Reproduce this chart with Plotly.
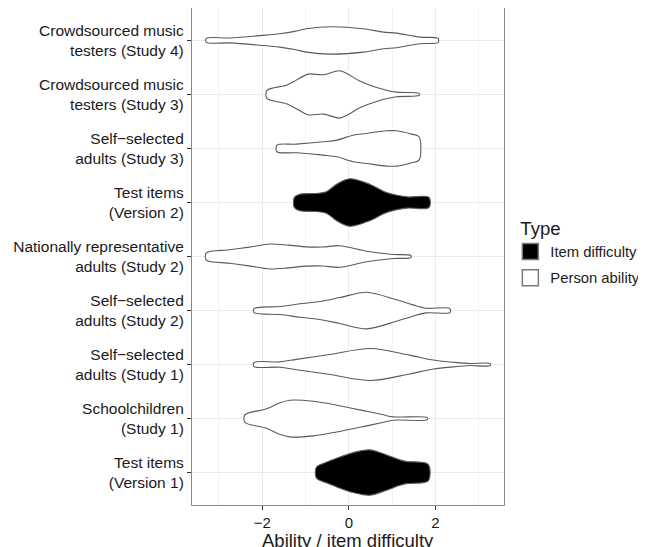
import plotly.graph_objects as go

# ---- data ----
groups = [
    "Test items<br>(Version 1)",
    "Schoolchildren<br>(Study 1)",
    "Self\u2212selected<br>adults (Study 1)",
    "Self\u2212selected<br>adults (Study 2)",
    "Nationally representative<br>adults (Study 2)",
    "Test items<br>(Version 2)",
    "Self\u2212selected<br>adults (Study 3)",
    "Crowdsourced music<br>testers (Study 3)",
    "Crowdsourced music<br>testers (Study 4)",
]
group_type = ["Item difficulty", "Person ability", "Person ability", "Person ability",
              "Person ability", "Item difficulty", "Person ability", "Person ability",
              "Person ability"]

# ability / difficulty grid and half-width of the violin (density) at each point
test_v1_x = [-0.75, -0.52, -0.28, 0.10, 0.48, 0.87, 1.18, 1.33, 1.83]
test_v1_w = [0.10, 0.19, 0.265, 0.37, 0.42, 0.327, 0.235, 0.204, 0.154]

school_s1_x = [-2.40, -1.90, -1.60, -1.36, -0.82, -0.28, 0.41, 0.77, 1.02, 1.81]
school_s1_w = [0.068, 0.18, 0.29, 0.339, 0.32, 0.248, 0.135, 0.074, 0.031, 0.019]

self_s1_x = [-2.19, -1.59, -1.21, -0.44, 0.50, 1.40, 1.95, 2.41, 2.79, 3.26]
self_s1_w = [0.037, 0.05, 0.096, 0.185, 0.296, 0.174, 0.083, 0.043, 0.019, 0.019]

self_s2_x = [-2.19, -1.59, -1.13, -0.67, -0.21, 0.41, 1.10, 1.48, 1.79, 2.33]
self_s2_w = [0.037, 0.074, 0.124, 0.167, 0.24, 0.339, 0.198, 0.105, 0.043, 0.037]

nat_s2_x = [-3.29, -2.75, -2.30, -1.82, -1.40, -0.98, -0.60, -0.21, 0.41, 1.02, 1.43]
nat_s2_w = [0.068, 0.124, 0.173, 0.231, 0.21, 0.178, 0.175, 0.20, 0.098, 0.037, 0.019]

test_v2_x = [-1.26, -1.13, -0.75, -0.52, -0.28, 0.02, 0.48, 0.87, 1.33, 1.85]
test_v2_w = [0.093, 0.154, 0.167, 0.198, 0.339, 0.44, 0.339, 0.185, 0.105, 0.093]

self_s3_x = [-1.66, -1.21, -0.59, -0.28, 0.10, 0.41, 0.87, 1.10, 1.45, 1.62]
self_s3_w = [0.061, 0.08, 0.124, 0.154, 0.246, 0.278, 0.327, 0.327, 0.265, 0.216]

crowd_s3_x = [-1.89, -1.44, -1.21, -0.94, -0.59, -0.22, -0.05, 0.25, 0.64, 1.10, 1.62]
crowd_s3_w = [0.074, 0.172, 0.265, 0.376, 0.364, 0.438, 0.389, 0.247, 0.13, 0.043, 0.019]

crowd_s4_x = [-3.29, -2.75, -2.0, -1.6, -1.25, -0.98, -0.40, 0.33, 0.80, 1.10, 1.64, 2.06]
crowd_s4_w = [0.037, 0.046, 0.093, 0.124, 0.167, 0.217, 0.254, 0.217, 0.154, 0.135, 0.061, 0.037]

violin_x = [test_v1_x, school_s1_x, self_s1_x, self_s2_x, nat_s2_x,
            test_v2_x, self_s3_x, crowd_s3_x, crowd_s4_x]
violin_w = [test_v1_w, school_s1_w, self_s1_w, self_s2_w, nat_s2_w,
            test_v2_w, self_s3_w, crowd_s3_w, crowd_s4_w]

type_names = ["Item difficulty", "Person ability"]
type_fill = {"Item difficulty": "#000000", "Person ability": "#ffffff"}

x_ticks = [-2, 0, 2]

# ---- figure ----
OUTLINE = "#5a5a5a"
FONT = "Liberation Sans, Arial, Helvetica, sans-serif"

fig = go.Figure()

for i, (xs, ws) in enumerate(zip(violin_x, violin_w)):
    pos = i + 1
    px = list(xs) + list(xs[::-1]) + [xs[0]]
    py = [pos + w for w in ws] + [pos - w for w in ws[::-1]] + [pos + ws[0]]
    fig.add_trace(go.Scatter(
        x=px, y=py, mode="lines", fill="toself",
        fillcolor=type_fill[group_type[i]],
        line=dict(color=OUTLINE, width=1.1, shape="spline", smoothing=0.9),
        showlegend=False, hoverinfo="skip",
    ))

# legend keys
for t in type_names:
    fig.add_trace(go.Scatter(
        x=[None], y=[None], mode="markers", name=t, legendgroup=t,
        marker=dict(symbol="square", size=16, color=type_fill[t],
                    line=dict(color="#7a7a7a", width=1.5)),
    ))

# The page body adds an 8px offset; the figure is sized so the panel lands
# where the reference panel is.
fig.update_layout(
    width=638, height=539,
    margin=dict(l=184, r=142, t=0, b=42, autoexpand=False),
    paper_bgcolor="white", plot_bgcolor="white",
    font=dict(family=FONT, size=15, color="#1a1a1a"),
    showlegend=True,
    legend=dict(
        title=dict(text="Type", font=dict(size=18.5, color="#1a1a1a")),
        x=1.046, xanchor="left", y=0.591, yanchor="top",
        font=dict(size=14.8, color="#1a1a1a"),
        itemsizing="trace", tracegroupgap=4, traceorder="grouped",
        indentation=-8, borderwidth=0,
        bgcolor="rgba(0,0,0,0)",
    ),
    xaxis=dict(
        range=[-3.62, 3.58], tickvals=x_ticks,
        ticktext=[f"{v}".replace("-", "\u2212") for v in x_ticks],
        showgrid=True, gridcolor="#ebebeb", gridwidth=1.1,
        minor=dict(dtick=1, tick0=1, showgrid=True, gridcolor="#f3f3f3", gridwidth=0.6),
        zeroline=False, ticks="outside", ticklen=4, tickcolor="#333333",
        tickfont=dict(size=15, color="#1a1a1a"),
        showline=True, linecolor="#8a8a8a", linewidth=1.2, mirror=True,
    ),
    yaxis=dict(
        range=[0.4, 9.6], tickvals=list(range(1, len(groups) + 1)), ticktext=groups,
        showgrid=True, gridcolor="#ebebeb", gridwidth=1.1,
        zeroline=False, ticks="outside", ticklen=4, tickcolor="#333333",
        tickfont=dict(size=15.5, color="#1a1a1a"), ticklabelstandoff=0,
        showline=True, linecolor="#8a8a8a", linewidth=1.2, mirror=True,
    ),
    annotations=[dict(
        text="Ability / item difficulty", xref="paper", yref="paper",
        x=0.5, y=-0.047, xanchor="center", yanchor="top", showarrow=False,
        font=dict(size=18.5, color="#1a1a1a"),
    )],
)

fig.write_html("out.html")
